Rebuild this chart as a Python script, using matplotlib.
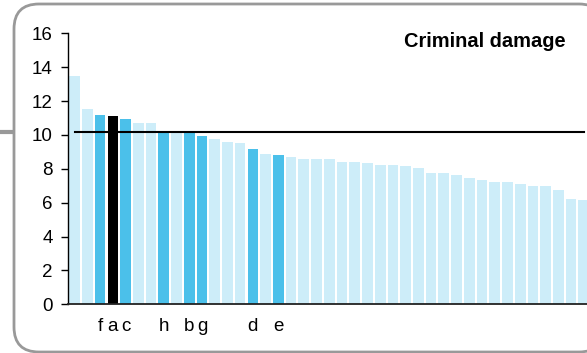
import matplotlib
matplotlib.use("Agg")
import matplotlib.pyplot as plt
from matplotlib.patches import FancyBboxPatch

plt.rcParams['font.family'] = ['Liberation Sans', 'DejaVu Sans']

# bar values, sorted high to low
values = [13.5, 11.55, 11.2, 11.12, 10.93, 10.7, 10.7, 10.25, 10.2, 10.1,
          9.93, 9.76, 9.58, 9.5, 9.17, 8.85, 8.8, 8.71, 8.6, 8.6,
          8.6, 8.4, 8.4, 8.32, 8.25, 8.2, 8.17, 8.05, 7.76, 7.76,
          7.64, 7.47, 7.34, 7.22, 7.22, 7.08, 7.0, 6.97, 6.75, 6.22,
          6.14]
# highlight: l = other, d = labelled, k = selected
kinds = ['l', 'l', 'd', 'k', 'd', 'l', 'l', 'd', 'l', 'd',
         'd', 'l', 'l', 'l', 'd', 'l', 'd'] + ['l'] * 24
tick_pos = [2, 3, 4, 7, 9, 10, 14, 16]
tick_labels = ['f', 'a', 'c', 'h', 'b', 'g', 'd', 'e']
average = 10.19
title = 'Criminal damage'

palette = {'l': '#cdedf9', 'd': '#4bc0ea', 'k': '#000000'}

fig = plt.figure(figsize=(5.87, 3.53), dpi=100)

# background frame (runs off the right side of the picture)
bg = fig.add_axes([0, 0, 1, 1])
bg.set_xlim(0, 587)
bg.set_ylim(353, 0)
bg.axis('off')
bg.add_patch(FancyBboxPatch((14, 4), 590, 348,
                            boxstyle="round,pad=0,rounding_size=25",
                            fc='white', ec='#999999', lw=2))
bg.plot([0, 14], [131.7, 131.7], color='#999999', lw=3, solid_capstyle='butt')

ax = fig.add_axes([68.3 / 587, 48.7 / 353, (587 - 68.3) / 587, 271 / 353])
ax.patch.set_alpha(0)
x = list(range(len(values)))
ax.bar(x, values, width=0.84, color=[palette[k] for k in kinds], zorder=2)
ax.plot([0, len(values) - 1], [average, average], color='black', lw=1.5, zorder=3)

ax.set_xlim(-0.5, 40.25)
ax.set_ylim(0, 16)
ax.set_yticks(range(0, 17, 2))
ax.set_xticks(tick_pos)
ax.set_xticklabels(tick_labels)
ax.tick_params(axis='y', length=4.8, width=1, direction='out', pad=6.5, labelsize=13.5)
ax.tick_params(axis='x', length=0, pad=10, labelsize=13.5)
for s in ['top', 'right']:
    ax.spines[s].set_visible(False)
ax.spines['left'].set_linewidth(1)
ax.spines['bottom'].set_linewidth(1.3)
ax.spines['bottom'].set_color('#222222')

fig.text(566 / 587, 1 - 46.7 / 353, title, ha='right', va='baseline',
         fontsize=14.4, fontweight='bold')

fig.savefig('out.png', dpi=100)
